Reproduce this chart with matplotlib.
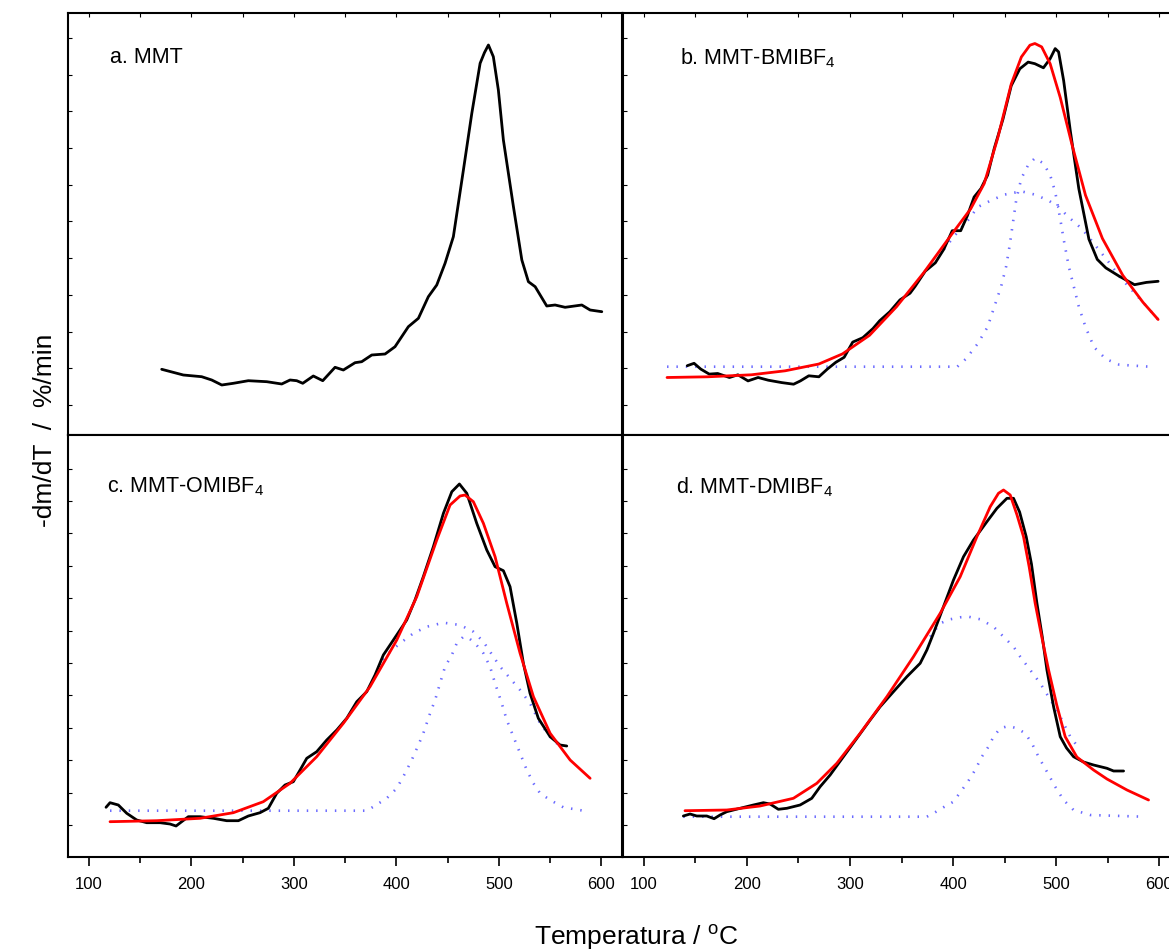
import numpy as np
import matplotlib
matplotlib.use("Agg")
import matplotlib.pyplot as plt
from matplotlib.ticker import MultipleLocator, NullFormatter, FixedLocator

plt.rcParams['font.family'] = ['Liberation Sans', 'DejaVu Sans']
plt.rcParams['mathtext.fontset'] = 'custom'
plt.rcParams['mathtext.rm'] = 'Liberation Sans'
plt.rcParams['mathtext.it'] = 'Liberation Sans:italic'

# ---------------- data (T in °C, signal in arbitrary units) ----------------
# a. MMT
a_T = [171.0, 192.1, 210.0, 219.8, 229.6, 240.9, 255.5, 273.5, 288.1, 296.2, 302.7, 308.6,
       318.9, 328.1, 340.1, 348.2, 359.6, 366.1, 375.9, 388.9, 398.6, 411.6, 421.4, 431.1,
       439.3, 447.4, 455.5, 465.3, 473.5, 481.6, 485.8, 489.7, 494.5, 499.4, 504.3, 514.1,
       522.3, 528.7, 535.3, 546.6, 554.7, 564.5, 580.8, 588.9, 600.3]
a_y = [0.657, 0.60, 0.583, 0.55, 0.50, 0.517, 0.543, 0.533, 0.51, 0.55, 0.543, 0.517,
       0.59, 0.543, 0.677, 0.65, 0.723, 0.733, 0.80, 0.81, 0.883, 1.083, 1.167, 1.383,
       1.50, 1.717, 1.983, 2.65, 3.217, 3.717, 3.823, 3.90, 3.783, 3.45, 2.95, 2.283,
       1.75, 1.533, 1.483, 1.29, 1.30, 1.277, 1.30, 1.25, 1.233]

# b. MMT-BMIBF4
b_T = [142.3, 148.9, 155.4, 163.6, 171.8, 183.2, 191.4, 201.2, 211.0, 220.8, 233.9, 245.4,
       252.0, 260.1, 269.9, 278.1, 286.3, 294.4, 302.7, 312.5, 322.3, 328.8, 338.7, 348.5,
       358.3, 363.2, 373.0, 382.8, 391.0, 399.2, 407.4, 413.9, 420.4, 427.0, 433.5, 440.0,
       448.3, 456.4, 464.7, 472.8, 479.3, 487.6, 494.1, 499.0, 502.3, 507.2, 513.7, 521.9,
       531.7, 539.8, 548.1, 561.2, 575.9, 587.4, 598.8]
b_y = [0.693, 0.717, 0.659, 0.609, 0.615, 0.575, 0.602, 0.541, 0.575, 0.548, 0.524, 0.508,
       0.541, 0.592, 0.582, 0.659, 0.727, 0.777, 0.929, 0.973, 1.064, 1.142, 1.233, 1.351,
       1.418, 1.486, 1.638, 1.722, 1.857, 2.043, 2.043, 2.194, 2.38, 2.464, 2.599, 2.869,
       3.156, 3.493, 3.662, 3.729, 3.713, 3.672, 3.763, 3.864, 3.831, 3.544, 3.038, 2.464,
       1.958, 1.756, 1.671, 1.587, 1.503, 1.526, 1.537]
b_fit_T = [122.7, 162.0, 204.4, 237.2, 269.9, 292.8, 319.0, 345.2, 371.4, 397.6, 417.1, 430.2,
           443.3, 456.4, 466.2, 474.5, 479.3, 485.9, 494.1, 503.9, 515.3, 528.4, 544.8, 564.5,
           584.1, 598.8]
b_fit_y = [0.575, 0.582, 0.602, 0.642, 0.71, 0.811, 0.997, 1.283, 1.621, 1.992, 2.262, 2.515,
           2.97, 3.51, 3.78, 3.898, 3.915, 3.881, 3.713, 3.375, 2.903, 2.397, 1.965, 1.597,
           1.327, 1.155]
b_c1_T = [122.7, 404.1, 412.3, 423.8, 433.5, 440.0, 446.6, 451.5, 454.8, 458.1, 461.4, 466.2,
          472.8, 479.3, 487.6, 494.1, 499.0, 503.9, 507.2, 512.1, 517.0, 521.9, 528.4, 536.6,
          548.1, 561.2, 590.6]
b_c1_y = [0.683, 0.683, 0.76, 0.912, 1.081, 1.283, 1.486, 1.688, 1.891, 2.127, 2.363, 2.566,
          2.70, 2.768, 2.717, 2.599, 2.431, 2.161, 1.958, 1.688, 1.486, 1.283, 1.081, 0.879,
          0.76, 0.703, 0.683]
b_c2_T = [391.0, 404.1, 415.6, 423.8, 436.8, 449.9, 466.2, 479.3, 492.4, 502.3, 512.1, 525.2,
          538.3, 551.4, 561.2, 584.1, 598.8]
b_c2_y = [1.857, 2.026, 2.161, 2.279, 2.346, 2.404, 2.437, 2.404, 2.346, 2.279, 2.178, 2.059,
          1.891, 1.722, 1.587, 1.327, 1.155]

# c. MMT-OMIBF4
c_T = [116.7, 120.6, 128.7, 136.9, 146.6, 156.4, 169.4, 179.1, 185.0, 190.5, 197.0, 208.4,
       221.4, 234.4, 245.8, 255.5, 266.9, 275.0, 283.2, 291.3, 299.4, 306.0, 312.5, 322.2,
       332.0, 341.8, 351.5, 361.3, 371.0, 379.1, 387.2, 397.0, 410.0, 418.1, 426.2, 436.0,
       445.8, 454.0, 461.4, 468.6, 478.3, 488.1, 496.2, 504.3, 510.8, 517.4, 523.8, 530.3,
       538.4, 549.9, 559.6, 566.1]
c_y = [0.497, 0.543, 0.52, 0.437, 0.37, 0.343, 0.343, 0.33, 0.31, 0.353, 0.403, 0.403,
       0.387, 0.363, 0.363, 0.41, 0.443, 0.487, 0.637, 0.72, 0.753, 0.87, 0.987, 1.053,
       1.17, 1.27, 1.387, 1.553, 1.653, 1.82, 2.02, 2.17, 2.37, 2.57, 2.803, 3.103,
       3.437, 3.653, 3.73, 3.637, 3.337, 3.07, 2.903, 2.863, 2.703, 2.337, 1.937, 1.637,
       1.387, 1.203, 1.12, 1.11]
c_fit_T = [120.6, 166.1, 208.4, 240.9, 270.1, 296.2, 322.2, 348.2, 374.2, 400.3, 419.8, 439.3,
           452.3, 462.0, 466.9, 475.0, 484.8, 496.2, 507.6, 520.6, 533.6, 549.9, 569.4, 588.9]
c_fit_y = [0.353, 0.363, 0.387, 0.443, 0.553, 0.737, 1.003, 1.337, 1.703, 2.17, 2.603, 3.17,
           3.52, 3.61, 3.62, 3.553, 3.337, 3.003, 2.537, 2.037, 1.603, 1.237, 0.97, 0.787]
c_c1_T = [120.6, 371.0, 377.5, 390.5, 400.3, 408.4, 414.9, 421.4, 426.2, 432.8, 437.7, 442.5,
          447.4, 454.0, 458.8, 465.3, 470.1, 476.7, 484.8, 491.3, 496.2, 502.7, 507.6, 514.1,
          520.6, 527.1, 533.6, 540.1, 549.9, 562.8, 582.3]
c_c1_y = [0.463, 0.463, 0.503, 0.587, 0.687, 0.837, 0.97, 1.12, 1.237, 1.437, 1.57, 1.737,
          1.903, 2.02, 2.137, 2.203, 2.193, 2.137, 2.037, 1.903, 1.737, 1.537, 1.37, 1.203,
          1.037, 0.87, 0.737, 0.637, 0.57, 0.497, 0.463]
c_c2_T = [387.2, 393.8, 403.5, 416.5, 429.6, 445.8, 462.0, 475.0, 484.8, 491.3, 501.1, 510.8,
          520.6, 530.3, 540.1, 549.9, 560.0]
c_c2_y = [1.97, 2.053, 2.137, 2.237, 2.303, 2.343, 2.32, 2.253, 2.153, 2.053, 1.903, 1.787,
          1.67, 1.537, 1.337, 1.203, 1.10]

# d. MMT-DMIBF4
d_T = [138.5, 145.0, 151.5, 161.2, 168.3, 174.1, 180.6, 193.5, 206.4, 216.1, 222.6, 230.6,
       238.8, 251.7, 263.0, 271.1, 280.8, 293.7, 306.7, 319.6, 329.3, 342.2, 355.2, 368.1,
       374.6, 381.0, 390.7, 400.4, 410.1, 419.8, 432.8, 442.5, 452.2, 458.6, 464.5, 470.9,
       476.0, 481.3, 486.5, 491.0, 497.5, 503.9, 510.0, 516.8, 526.5, 536.2, 549.2, 555.6,
       565.3]
d_y = [0.41, 0.43, 0.41, 0.41, 0.383, 0.42, 0.453, 0.487, 0.52, 0.543, 0.53, 0.477,
       0.487, 0.52, 0.587, 0.703, 0.82, 1.003, 1.187, 1.37, 1.503, 1.653, 1.803, 1.937,
       2.07, 2.237, 2.503, 2.77, 3.003, 3.17, 3.353, 3.487, 3.587, 3.587, 3.45, 3.203,
       2.93, 2.537, 2.20, 1.87, 1.50, 1.203, 1.09, 1.003, 0.95, 0.92, 0.887, 0.86,
       0.86]
d_fit_T = [140.1, 180.6, 212.9, 245.2, 267.9, 287.3, 309.9, 335.8, 361.6, 387.5, 406.9, 423.1,
           436.0, 444.0, 448.9, 455.4, 462.0, 468.3, 473.8, 479.6, 486.0, 492.6, 500.5, 508.7,
           520.0, 536.2, 549.2, 568.6, 589.5]
d_fit_y = [0.463, 0.47, 0.51, 0.587, 0.737, 0.937, 1.237, 1.603, 2.003, 2.437, 2.803, 3.203,
           3.503, 3.637, 3.67, 3.62, 3.42, 3.203, 2.90, 2.537, 2.20, 1.87, 1.52, 1.203,
           1.00, 0.87, 0.78, 0.67, 0.57]
d_c1_T = [138.5, 374.6, 381.0, 390.7, 400.4, 408.5, 413.4, 421.4, 427.9, 434.3, 439.2, 445.7,
          453.7, 461.9, 469.9, 476.4, 482.8, 491.0, 499.0, 507.1, 516.8, 533.0, 584.7]
d_c1_y = [0.403, 0.403, 0.437, 0.497, 0.553, 0.67, 0.737, 0.87, 1.003, 1.103, 1.203, 1.287,
          1.31, 1.287, 1.237, 1.137, 1.003, 0.853, 0.703, 0.57, 0.47, 0.42, 0.403]
d_c2_T = [377.8, 387.5, 397.2, 406.9, 414.9, 426.3, 439.2, 448.9, 458.6, 465.1, 474.8, 484.5,
          492.5, 500.7, 507.1, 513.6, 523.3]
d_c2_y = [2.203, 2.337, 2.377, 2.397, 2.403, 2.377, 2.303, 2.203, 2.103, 2.003, 1.87, 1.737,
          1.603, 1.47, 1.337, 1.203, 1.07]

panel_labels = ['a. MMT', r'b. MMT-BMIBF$_\mathrm{4}$',
                r'c. MMT-OMIBF$_\mathrm{4}$', r'd. MMT-DMIBF$_\mathrm{4}$']
x_ticks = [100, 200, 300, 400, 500, 600]
x_label = r'Temperatura / $^\mathrm{o}$C'
y_label = '-dm/dT  /  %/min'

# ---------------- figure ----------------
W, H = 1169, 952
fig = plt.figure(figsize=(W / 100, H / 100), dpi=100)

def px_axes(x0, y0, x1, y1):
    return fig.add_axes([x0 / W, 1 - y1 / H, (x1 - x0) / W, (y1 - y0) / H])

ax_a = px_axes(68.4, 13, 622, 435)
ax_b = px_axes(623, 13, 1180, 435)
ax_c = px_axes(68.4, 435, 622, 857)
ax_d = px_axes(623, 435, 1180, 857)
axes = [ax_a, ax_b, ax_c, ax_d]

blk = dict(color='black', lw=2.0, zorder=3, solid_joinstyle='round', solid_capstyle='round')
red = dict(color='#ff0000', lw=2.0, zorder=4, solid_joinstyle='round', solid_capstyle='round')
blu = dict(color='#6a6aff', lw=1.9, linestyle=(0, (0.55, 3.0)), dash_capstyle='butt', zorder=2)

ax_a.plot(a_T, a_y, **blk)

ax_b.plot(b_c1_T, b_c1_y, **blu)
ax_b.plot(b_c2_T, b_c2_y, **blu)
ax_b.plot(b_T, b_y, **blk)
ax_b.plot(b_fit_T, b_fit_y, **red)

ax_c.plot(c_c1_T, c_c1_y, **blu)
ax_c.plot(c_c2_T, c_c2_y, **blu)
ax_c.plot(c_T, c_y, **blk)
ax_c.plot(c_fit_T, c_fit_y, **red)

ax_d.plot(d_c1_T, d_c1_y, **blu)
ax_d.plot(d_c2_T, d_c2_y, **blu)
ax_d.plot(d_T, d_y, **blk)
ax_d.plot(d_fit_T, d_fit_y, **red)

label_pos = [(0.075, 0.895), (0.102, 0.893), (0.070, 0.877), (0.095, 0.877)]
for i, ax in enumerate(axes):
    ax.set_xlim(80, 620)
    ax.set_ylim(0, 4.22)
    for s in ax.spines.values():
        s.set_linewidth(1.5)
    ax.xaxis.set_major_locator(FixedLocator(x_ticks))
    ax.xaxis.set_minor_locator(MultipleLocator(50))
    if i < 2:
        yt = np.arange(0.30, 4.15, 0.367)
    else:
        yt = np.arange(0.32, 4.15, 0.324)
    ax.set_yticks(yt)
    ax.yaxis.set_major_formatter(NullFormatter())
    ax.tick_params(axis='y', which='both', direction='in', left=True, right=False,
                   length=3, width=0.8)
    if i >= 2:
        ax.tick_params(axis='x', which='major', direction='out', length=6.5, width=1.2,
                       labelsize=12, pad=8, top=False, bottom=True)
        ax.tick_params(axis='x', which='minor', direction='out', length=4, width=1.2,
                       top=False, bottom=True)
    else:
        ax.tick_params(axis='x', which='both', direction='in', length=3, width=0.8,
                       top=True, bottom=False, labelbottom=False)
    ax.text(label_pos[i][0], label_pos[i][1], panel_labels[i], transform=ax.transAxes,
            fontsize=15.5, ha='left', va='center')

fig.text(45 / W, 1 - 430 / H, y_label, rotation=90, fontsize=19, ha='center', va='center')
fig.text(636 / W, 1 - 937 / H, x_label, fontsize=19, ha='center', va='center')

fig.savefig('out.png', dpi=100)
